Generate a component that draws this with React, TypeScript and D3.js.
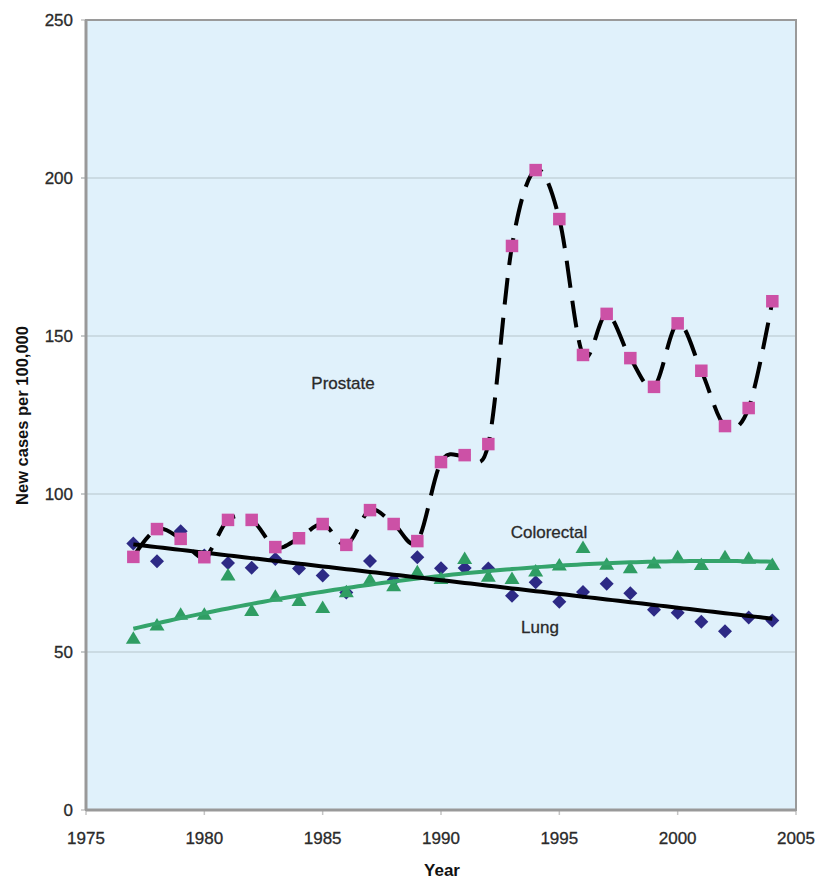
import React from "react";
import * as d3 from "d3";

const years = [1977,1978,1979,1980,1981,1982,1983,1984,1985,1986,1987,1988,1989,1990,1991,1992,1993,1994,1995,1996,1997,1998,1999,2000,2001,2002,2003,2004];
const prostate = [80.1,88.9,85.8,80.0,91.8,91.8,83.2,86.0,90.5,83.9,94.9,90.5,85.1,110.1,112.3,115.8,178.5,202.5,187.0,144.0,157.0,143.0,133.9,154.0,139.0,121.5,127.2,161.0];
const lung = [84.3,78.7,88.2,80.5,78.2,76.7,79.4,76.4,74.2,68.8,78.8,72.8,80.0,76.5,76.6,76.4,67.8,72.1,65.9,69.0,71.6,68.6,63.4,62.4,59.6,56.6,60.9,60.0];
const colorectal = [54.2,58.4,61.8,61.8,74.2,63.0,67.5,66.1,63.9,68.9,72.8,70.8,75.2,73.1,79.4,73.8,73.1,75.5,77.4,82.9,77.6,76.5,78.0,80.0,77.5,80.0,79.5,77.5];
const yTicks = [0, 50, 100, 150, 200, 250];
const xTicks = [1975, 1980, 1985, 1990, 1995, 2000, 2005];
const seriesLabels = ["Prostate", "Colorectal", "Lung"];

function polyFit(xs: number[], ys: number[], order: number): number[] {
  const n = order + 1;
  const x0 = d3.mean(xs) as number;
  const A: number[][] = Array.from({ length: n }, () => new Array(n + 1).fill(0));
  xs.forEach((xv, i) => {
    const t = xv - x0;
    for (let r = 0; r < n; r++) {
      for (let c = 0; c < n; c++) A[r][c] += Math.pow(t, r + c);
      A[r][n] += ys[i] * Math.pow(t, r);
    }
  });
  for (let i = 0; i < n; i++) {
    let p = i;
    for (let k = i + 1; k < n; k++) if (Math.abs(A[k][i]) > Math.abs(A[p][i])) p = k;
    [A[i], A[p]] = [A[p], A[i]];
    for (let k = i + 1; k < n; k++) {
      const f = A[k][i] / A[i][i];
      for (let c = i; c <= n; c++) A[k][c] -= f * A[i][c];
    }
  }
  const coef = new Array(n).fill(0);
  for (let i = n - 1; i >= 0; i--) {
    let s = A[i][n];
    for (let c = i + 1; c < n; c++) s -= A[i][c] * coef[c];
    coef[i] = s / A[i][i];
  }
  return [x0, ...coef];
}
function evalFit(fit: number[], xv: number) {
  const [x0, ...c] = fit;
  const t = xv - x0;
  return c.reduce((s, a, i) => s + a * Math.pow(t, i), 0);
}

export default function App() {
  const W = 818, H = 880;
  const left = 86, right = 796, top = 20, bottom = 810;
  const x = d3.scaleLinear().domain([1975, 2005]).range([left, right]);
  const y = d3.scaleLinear().domain([0, 250]).range([bottom, top]);

  const pts = (vals: number[]) => years.map((yr, i) => [x(yr), y(vals[i])] as [number, number]);
  const prostateLine = d3.line().curve(d3.curveCardinal.tension(0))(pts(prostate)) as string;

  const lungFit = polyFit(years, lung, 1);
  const colFit = polyFit(years, colorectal, 2);
  const fineYears = d3.range(years[0], years[years.length - 1] + 0.001, 0.25);
  const lungTrend = d3.line()(fineYears.map((t) => [x(t), y(evalFit(lungFit, t))] as [number, number])) as string;
  const colTrend = d3.line()(fineYears.map((t) => [x(t), y(evalFit(colFit, t))] as [number, number])) as string;

  const sq = 12.5, dm = 7, tw = 7.5, th = 12.5;
  const font = "'Liberation Sans', Arial, Helvetica, sans-serif";
  const txt = { fill: "#2a2a2a", stroke: "#2a2a2a", strokeWidth: 0.3 };

  return (
    <svg width={W} height={H} style={{ position: "absolute", left: 0, top: 0, display: "block", background: "#fff" }} fontFamily={font}>
      <rect x={left} y={top} width={right - left} height={bottom - top} fill="#e0f1fb" />
      {yTicks.filter((t) => t > 0 && t < 250).map((t) => (
        <line key={"g" + t} x1={left - 5} x2={right} y1={y(t)} y2={y(t)} stroke="#c5d3db" strokeWidth={1.5} />
      ))}
      {yTicks.map((t) => (
        <g key={"yt" + t}>
          <line x1={left - 5} x2={left} y1={y(t)} y2={y(t)} stroke="#c5c5c5" strokeWidth={1.5} />
          <text x={73} y={y(t)} dy="0.35em" textAnchor="end" fontSize={17} {...txt}>{t}</text>
        </g>
      ))}
      {xTicks.map((t) => (
        <g key={"xt" + t}>
          <line x1={x(t)} x2={x(t)} y1={bottom} y2={bottom + 5} stroke="#c5c5c5" strokeWidth={1.5} />
          <text x={x(t)} y={844} textAnchor="middle" fontSize={17} {...txt}>{t}</text>
        </g>
      ))}
      <rect x={left} y={top} width={right - left} height={bottom - top} fill="none" stroke="#9a9a9a" strokeWidth={2} />
      <line x1={left} x2={left} y1={top} y2={bottom} stroke="#999" strokeWidth={3} />
      <line x1={left} x2={right} y1={bottom} y2={bottom} stroke="#999" strokeWidth={3} />

      {pts(lung).map(([px, py], i) => (
        <path key={"l" + i} d={`M${px},${py - dm}L${px + dm},${py}L${px},${py + dm}L${px - dm},${py}Z`} fill="#2d2a85" />
      ))}
      {pts(colorectal).map(([px, py], i) => (
        <path key={"c" + i} d={`M${px},${py - th * 0.6}L${px + tw},${py + th * 0.4}L${px - tw},${py + th * 0.4}Z`} fill="#2f9d63" />
      ))}
      <path d={colTrend} fill="none" stroke="#34a46b" strokeWidth={4} />
      <path d={lungTrend} fill="none" stroke="#000" strokeWidth={4} />
      <path d={prostateLine} fill="none" stroke="#000" strokeWidth={4} strokeDasharray="27 13" />
      {pts(prostate).map(([px, py], i) => (
        <rect key={"p" + i} x={px - sq / 2} y={py - sq / 2} width={sq} height={sq} fill="#cc51a6" />
      ))}

      <text x={343} y={383} dy="0.35em" textAnchor="middle" fontSize={17} {...txt}>{seriesLabels[0]}</text>
      <text x={549} y={532} dy="0.35em" textAnchor="middle" fontSize={17} {...txt}>{seriesLabels[1]}</text>
      <text x={540} y={627} dy="0.35em" textAnchor="middle" fontSize={17} {...txt}>{seriesLabels[2]}</text>

      <text x={442} y={876} textAnchor="middle" fontSize={17} fontWeight="bold" fill="#111">Year</text>
      <text transform={`translate(28,${(318 + 513) / 2}) rotate(-90)`} textAnchor="middle" fontSize={16.5} fontWeight="bold" fill="#111">New cases per 100,000</text>
    </svg>
  );
}
